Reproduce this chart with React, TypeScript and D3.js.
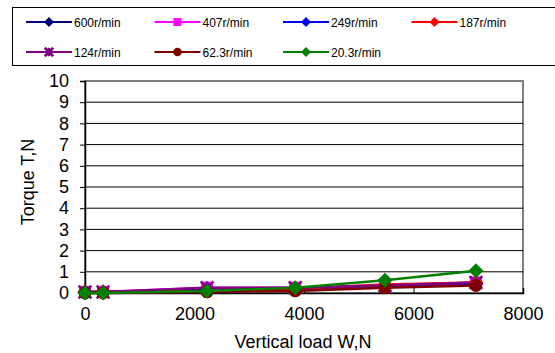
import React, { useEffect, useRef } from "react";
import * as d3 from "d3";

// vertical load (N) at each measurement
const loads = [0, 330, 2230, 3840, 5480, 7140];

// torque T (N) for each rotation speed
const seriesNames = ["600r/min", "407r/min", "249r/min", "187r/min", "124r/min", "62.3r/min", "20.3r/min"];
const t600 = [0.05, 0.05, 0.15, 0.2, 0.3, 0.45];
const t407 = [0.05, 0.05, 0.25, 0.25, 0.3, 0.5];
const t249 = [0.05, 0.05, 0.15, 0.2, 0.35, 0.45];
const t187 = [0.05, 0.05, 0.1, 0.2, 0.4, 0.5];
const t124 = [0.05, 0.05, 0.25, 0.25, 0.35, 0.5];
const t62 = [0, 0, 0.05, 0.1, 0.25, 0.35];
const t20 = [0, 0, 0.1, 0.25, 0.6, 1.05];

const xTicks = [0, 2000, 4000, 6000, 8000];
const yTicks = [0, 1, 2, 3, 4, 5, 6, 7, 8, 9, 10];

const colors = ["#000080", "#ff00ff", "#0000ff", "#ff0000", "#800080", "#800000", "#008000"];
const markers = ["diamond", "square", "diamond", "diamond", "star", "circle", "diamond"];

const App = () => {
  const svgRef = useRef<SVGSVGElement>(null);

  useEffect(() => {
    const svg = d3.select(svgRef.current);
    svg.selectAll("*").remove();
    const font = "Arial, 'Liberation Sans', sans-serif";
    const allSeries = [t600, t407, t249, t187, t124, t62, t20];

    const left = 85, right = 523, top = 81, bottom = 293;
    const x = d3.scaleLinear().domain([0, 8000]).range([left, right]);
    const y = d3.scaleLinear().domain([0, 10]).range([bottom, top]);

    const drawMarker = (g, kind, cx, cy, color, size) => {
      if (kind === "diamond") {
        g.append("path")
          .attr("d", `M${cx},${cy - size}L${cx + size},${cy}L${cx},${cy + size}L${cx - size},${cy}Z`)
          .attr("fill", color);
      } else if (kind === "square") {
        g.append("rect")
          .attr("x", cx - size * 0.8).attr("y", cy - size * 0.8)
          .attr("width", size * 1.6).attr("height", size * 1.6)
          .attr("fill", color);
      } else if (kind === "circle") {
        g.append("circle").attr("cx", cx).attr("cy", cy).attr("r", size * 0.85).attr("fill", color);
      } else {
        const s = size * 0.85;
        g.append("path")
          .attr("d", `M${cx - s},${cy - s}L${cx + s},${cy + s}M${cx - s},${cy + s}L${cx + s},${cy - s}M${cx},${cy - s}L${cx},${cy + s}`)
          .attr("stroke", color).attr("stroke-width", 2.5);
      }
    };

    // legend
    svg.append("rect")
      .attr("x", 12.5).attr("y", 7.5).attr("width", 560).attr("height", 58)
      .attr("fill", "white").attr("stroke", "black");
    seriesNames.forEach((name, i) => {
      const col = i % 4, row = Math.floor(i / 4);
      const lx = 26 + col * 128.5, ly = 22 + row * 30;
      const g = svg.append("g");
      g.append("line").attr("x1", lx).attr("x2", lx + 46).attr("y1", ly).attr("y2", ly)
        .attr("stroke", colors[i]).attr("stroke-width", 2);
      drawMarker(g, markers[i], lx + 23, ly, colors[i], 5);
      g.append("text").attr("x", lx + 48).attr("y", ly + 4.5)
        .attr("font-family", font).attr("font-size", 12).text(name);
    });

    // plot frame
    svg.append("rect")
      .attr("x", left).attr("y", top).attr("width", right - left).attr("height", bottom - top)
      .attr("fill", "white").attr("stroke", "#808080").attr("stroke-width", 2);

    // gridlines
    svg.append("g").selectAll("line").data(yTicks.slice(1, -1)).join("line")
      .attr("x1", left).attr("x2", right)
      .attr("y1", (d) => y(d)).attr("y2", (d) => y(d))
      .attr("stroke", "black").attr("stroke-width", 1);

    // axes
    const yAxis = svg.append("g").attr("transform", `translate(${left},0)`)
      .call(d3.axisLeft(y).tickValues(yTicks).tickSize(5).tickPadding(11));
    yAxis.select(".domain").attr("stroke-width", 1.5);
    yAxis.selectAll("text").attr("font-family", font).attr("font-size", 18).attr("fill", "black");

    const xAxis = svg.append("g").attr("transform", `translate(0,${bottom})`)
      .call(d3.axisBottom(x).tickValues(xTicks).tickFormat(d3.format("d")).tickSize(-5).tickPadding(14));
    xAxis.select(".domain").attr("stroke-width", 1.5);
    xAxis.selectAll("text").attr("font-family", font).attr("font-size", 18).attr("fill", "black");

    // series
    const line = d3.line<number>().x((d, i) => x(loads[i])).y((d) => y(d));
    allSeries.forEach((vals, si) => {
      const g = svg.append("g");
      g.append("path").datum(vals).attr("d", line)
        .attr("fill", "none").attr("stroke", colors[si]).attr("stroke-width", 2.5);
      vals.forEach((v, i) => drawMarker(g, markers[si], x(loads[i]), y(v), colors[si], 7.5));
    });

    // axis titles
    svg.append("text")
      .attr("x", 303).attr("y", 348).attr("text-anchor", "middle")
      .attr("font-family", font).attr("font-size", 18).text("Vertical load W,N");
    svg.append("text")
      .attr("transform", `translate(34,182) rotate(-90)`).attr("text-anchor", "middle")
      .attr("font-family", font).attr("font-size", 18).text("Torque T,N");
  }, []);

  return (
    <svg ref={svgRef} width={555} height={353}
      style={{ position: "absolute", left: 0, top: 0, background: "white" }} />
  );
};

export default App;
